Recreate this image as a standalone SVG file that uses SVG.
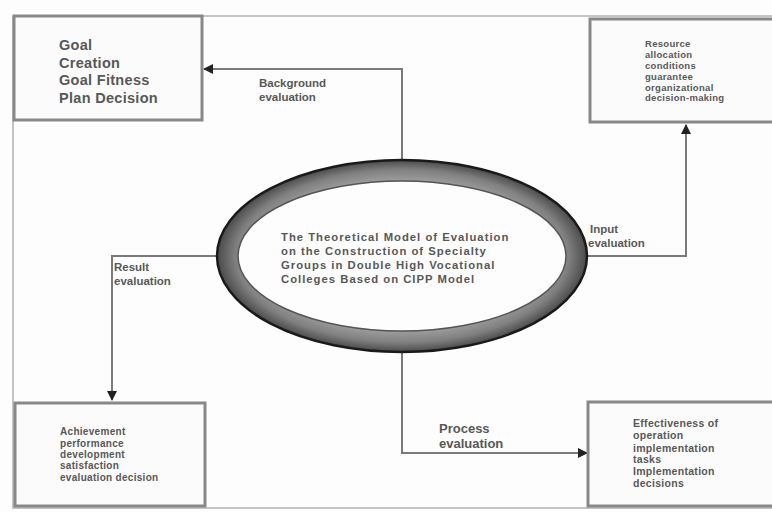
<svg xmlns="http://www.w3.org/2000/svg" width="772" height="512" viewBox="0 0 772 512">
<style>
.box{fill:#fbfbfb;stroke:#888;stroke-width:3}
.t{font-family:"Liberation Sans",Arial,sans-serif;font-weight:bold;fill:#585858}
.conn{fill:none;stroke:#7a7a7a;stroke-width:2}
.lbl{font-family:"Liberation Sans",Arial,sans-serif;font-weight:bold;fill:#585858;font-size:11.5px}
</style>
<defs>
<marker id="ah" viewBox="0 0 10 10" refX="9" refY="5" markerWidth="5" markerHeight="5" orient="auto" markerUnits="strokeWidth">
<path d="M0,0 L10,5 L0,10 z" fill="#222"/>
</marker>
<radialGradient id="ring" cx="50%" cy="50%" r="50%">
<stop offset="0.8" stop-color="#999"/>
<stop offset="0.9" stop-color="#808080"/>
<stop offset="1" stop-color="#4a4a4a"/>
</radialGradient>
</defs>
<rect width="772" height="512" fill="#fdfdfd"/>
<path d="M13,16 H772 M13,16 V508 H772" fill="none" stroke="#c4c4c4" stroke-width="2"/>
<g id="connectors">
<path class="conn" d="M402,160 V69 H204" marker-end="url(#ah)"/>
<path class="conn" d="M588,256 H686 V125" marker-end="url(#ah)"/>
<path class="conn" d="M217,256 H112 V400" marker-end="url(#ah)"/>
<path class="conn" d="M402,352 V453 H587" marker-end="url(#ah)"/>
<text class="lbl"><tspan x="259" y="87">Background</tspan><tspan x="259" y="101">evaluation</tspan></text>
<text class="lbl"><tspan x="590" y="233">Input</tspan><tspan x="588" y="247">evaluation</tspan></text>
<text class="lbl"><tspan x="114" y="271">Result</tspan><tspan x="114" y="285">evaluation</tspan></text>
<text class="lbl" style="font-size:13px"><tspan x="439" y="433">Process</tspan><tspan x="439" y="448">evaluation</tspan></text>
</g>
<g id="center">
<ellipse cx="402" cy="256" rx="185" ry="96" fill="url(#ring)" stroke="#1a1a1a" stroke-width="2.5"/>
<ellipse cx="402" cy="256" rx="164" ry="75" fill="#fdfdfd" stroke="#555" stroke-width="1.5"/>
<text class="t" style="font-size:11.3px;letter-spacing:1px"><tspan x="281" y="241">The Theoretical Model of Evaluation</tspan><tspan x="281" y="255">on the Construction of Specialty</tspan><tspan x="281" y="269">Groups in Double High Vocational</tspan><tspan x="281" y="283">Colleges Based on CIPP Model</tspan></text>
</g>
<g id="context">
<rect class="box" x="14" y="16" width="188" height="104"/>
<text class="t" style="font-size:14.5px;letter-spacing:0.3px"><tspan x="59" y="50">Goal</tspan><tspan x="59" y="67.5">Creation</tspan><tspan x="59" y="85">Goal Fitness</tspan><tspan x="59" y="102.5">Plan Decision</tspan></text>
</g>
<g id="input">
<rect class="box" x="590" y="19" width="185" height="103"/>
<text class="t" style="font-size:9.5px;letter-spacing:0.3px"><tspan x="645" y="47">Resource</tspan><tspan x="645" y="58">allocation</tspan><tspan x="645" y="69">conditions</tspan><tspan x="645" y="79.5">guarantee</tspan><tspan x="645" y="90.5">organizational</tspan><tspan x="645" y="101">decision-making</tspan></text>
</g>
<g id="result">
<rect class="box" x="15" y="403" width="190" height="103"/>
<text class="t" style="font-size:10px;letter-spacing:0.3px"><tspan x="60" y="435">Achievement</tspan><tspan x="60" y="446.5">performance</tspan><tspan x="60" y="458">development</tspan><tspan x="60" y="469">satisfaction</tspan><tspan x="60" y="481">evaluation decision</tspan></text>
</g>
<g id="process">
<rect class="box" x="588" y="402" width="187" height="104"/>
<text class="t" style="font-size:10.5px;letter-spacing:0.3px"><tspan x="633" y="427">Effectiveness of</tspan><tspan x="633" y="439">operation</tspan><tspan x="633" y="452">implementation</tspan><tspan x="633" y="463">tasks</tspan><tspan x="633" y="475">Implementation</tspan><tspan x="633" y="487">decisions</tspan></text>
</g>
</svg>
